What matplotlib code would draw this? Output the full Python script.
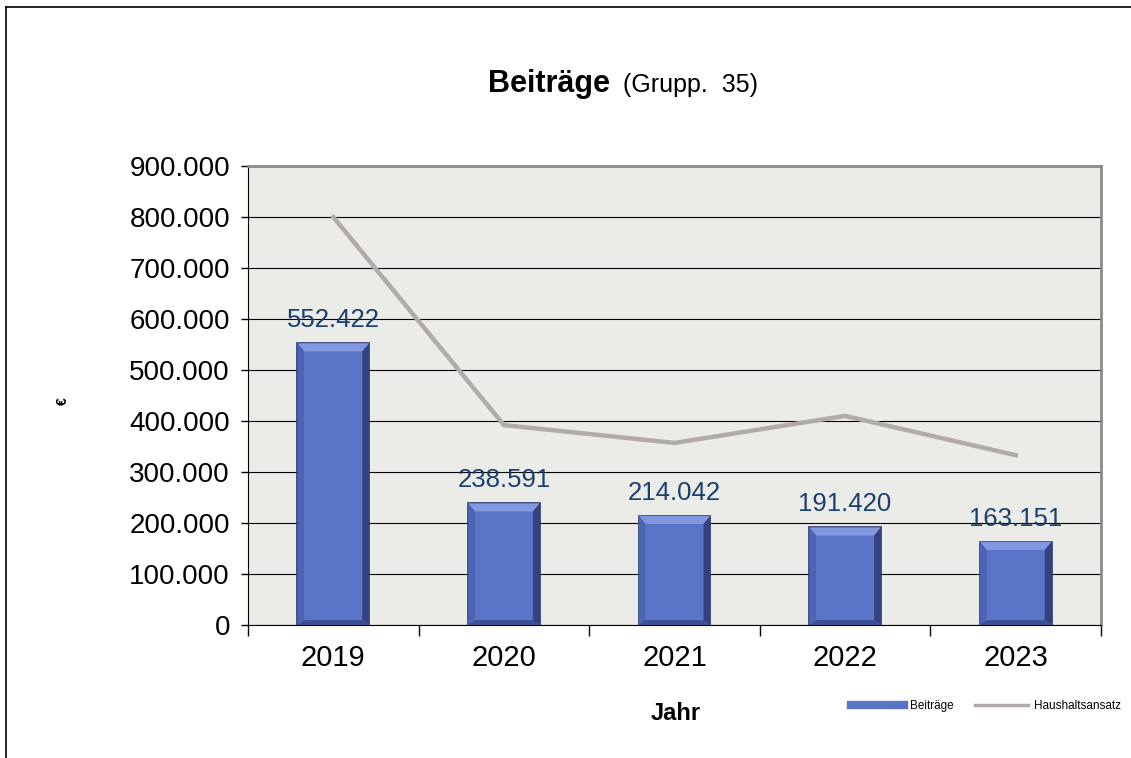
import matplotlib
matplotlib.use('Agg')
import matplotlib.pyplot as plt
from matplotlib.lines import Line2D
from matplotlib.patches import Polygon
from matplotlib.ticker import FuncFormatter

# data
years = ['2019', '2020', '2021', '2022', '2023']
beitraege = [552422, 238591, 214042, 191420, 163151]
haushaltsansatz = [800000, 392000, 357000, 410000, 333000]

plt.rcParams['font.family'] = ['Liberation Sans', 'DejaVu Sans']

bar_color = '#5a74c8'
bar_edge = '#2a3770'
line_color = '#b1abaa'
label_color = '#1b3f6e'
bar_w = 0.42

fig = plt.figure(figsize=(11.31, 7.58), dpi=100)
ax = fig.add_axes([248/1131, 1-625/758, (1101-248)/1131, (625-166)/758])
ax.set_facecolor('#ebebe8')

x = list(range(len(years)))
bars = ax.bar(x, beitraege, width=bar_w, color=bar_color, edgecolor=bar_edge,
              linewidth=1.2, zorder=3)

# bevel look: light top, dark right and bottom
bx = 0.04      # bevel width in category units
by = 16000     # bevel height in data units
for b in bars:
    x0, x1 = b.get_x(), b.get_x() + b.get_width()
    h = b.get_height()
    ax.add_patch(Polygon([(x0, h), (x1, h), (x1 - bx, h - by), (x0 + bx, h - by)],
                         closed=True, color='#8197e0', lw=0, zorder=3.5))
    ax.add_patch(Polygon([(x1, h), (x1, 0), (x1 - bx, by * 0.6), (x1 - bx, h - by)],
                         closed=True, color='#34427f', lw=0, zorder=3.5))
    ax.add_patch(Polygon([(x0, 0), (x1, 0), (x1 - bx, by * 0.6), (x0 + bx, by * 0.6)],
                         closed=True, color='#3d4f95', lw=0, zorder=3.5))
    ax.add_patch(Polygon([(x0, h), (x0, 0), (x0 + bx, by * 0.6), (x0 + bx, h - by)],
                         closed=True, color='#4c64b4', lw=0, zorder=3.5))

ax.plot(x, haushaltsansatz, color=line_color, lw=3.2, zorder=4,
        solid_joinstyle='miter')

for xi, v in zip(x, beitraege):
    ax.annotate(f'{v:,}'.replace(',', '.'), (xi, v), xytext=(0, 8),
                textcoords='offset points', ha='center', va='bottom',
                fontsize=18.5, color=label_color, zorder=5)

ax.set_xlim(-0.5, len(years) - 0.5)
ax.set_ylim(0, 900000)
ax.set_yticks(range(0, 900001, 100000))
ax.yaxis.set_major_formatter(FuncFormatter(lambda v, p: f'{int(v):,}'.replace(',', '.')))
ax.yaxis.grid(True, color='black', lw=0.8, zorder=1)
ax.set_axisbelow(True)
ax.tick_params(axis='y', direction='out', length=5, width=1, labelsize=20, pad=8)

# category boundaries as ticks, year labels in between
ax.set_xticks([i - 0.5 for i in range(len(years) + 1)])
ax.set_xticklabels([])
ax.set_xticks(x, minor=True)
ax.set_xticklabels(years, minor=True)
ax.tick_params(axis='x', which='major', direction='out', length=8, width=1)
ax.tick_params(axis='x', which='minor', length=0, labelsize=21, pad=14)

for s in ['top', 'right']:
    ax.spines[s].set_color('#8a8a8a')
    ax.spines[s].set_linewidth(2)
ax.spines['left'].set_color('black')
ax.spines['bottom'].set_color('black')

# title
fig.text(488/1131, 1-92/758, 'Beiträge', fontsize=22, fontweight='bold',
         ha='left', va='baseline')
fig.text(623/1131, 1-92/758, '(Grupp.  35)', fontsize=18,
         ha='left', va='baseline')

fig.text(676/1131, 1-713/758, 'Jahr', fontsize=17, fontweight='bold',
         ha='center', va='center')
fig.text(63/1131, 1-401/758, '€', fontsize=10, fontweight='bold',
         rotation=90, ha='center', va='center')

handles = [Line2D([], [], color=bar_color, lw=6),
           Line2D([], [], color=line_color, lw=2.5)]
fig.legend(handles, ['Beiträge', 'Haushaltsansatz'], loc='center',
           bbox_to_anchor=(986/1131, 1-706/758), ncol=2, frameon=False,
           fontsize=8.5, handlelength=4.5, handletextpad=0.5, columnspacing=1.8)

# outer frame (top and left only)
fig.add_artist(Line2D([6/1131, 1], [1-7/758, 1-7/758], color='black', lw=1.2))
fig.add_artist(Line2D([6/1131, 6/1131], [0, 1-7/758], color='black', lw=1.2))

fig.savefig('out.png', dpi=100)
